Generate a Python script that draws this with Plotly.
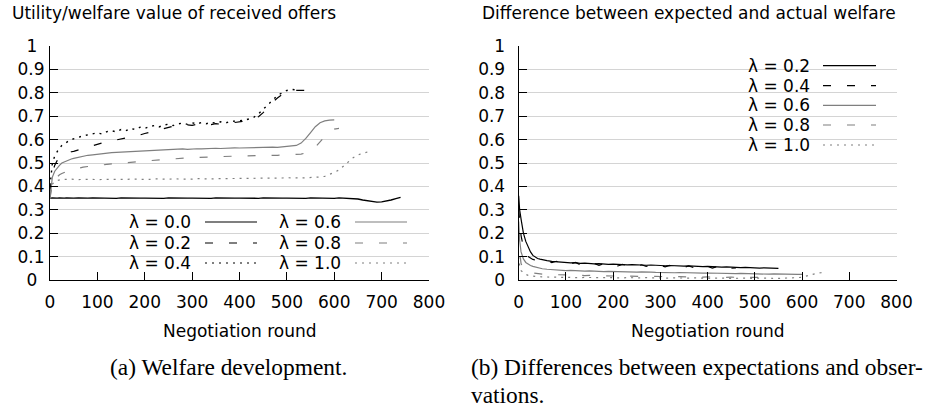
import plotly.graph_objects as go

W, H = 925, 410

# ---------------- data ----------------
ROUNDS = [0, 2, 5, 10, 15, 20, 25, 30, 35, 40, 45, 50,
          60, 70, 80, 90, 100, 110, 120, 130, 140, 150,
          160, 170, 180, 190, 200, 210, 220, 230, 240, 250,
          260, 270, 280, 290, 300, 310, 320, 330, 340, 350,
          360, 370, 380, 390, 400, 410, 420, 430, 440, 450,
          460, 470, 480, 490, 500, 510, 520, 530, 540, 550,
          560, 570, 580, 590, 600, 610, 620, 630, 640, 650,
          660, 670, 680, 690, 700, 710, 720, 730, 740, 750]

X_TICKS = [0, 100, 200, 300, 400, 500, 600, 700, 800]
Y_TICKS = [0, 0.1, 0.2, 0.3, 0.4, 0.5, 0.6, 0.7, 0.8, 0.9, 1]
Y_TICK_LABELS = ["0", "0.1", "0.2", "0.3", "0.4", "0.5", "0.6", "0.7", "0.8", "0.9", "1"]

# (a) welfare of received offers
welfare_l00 = [0.352, 0.35, 0.351, 0.349, 0.35, 0.351, 0.349, 0.35, 0.351, 0.35, 0.349, 0.35,
               0.351, 0.349, 0.35, 0.351, 0.35, 0.349, 0.351, 0.35, 0.349, 0.351,
               0.35, 0.349, 0.351, 0.35, 0.35, 0.349, 0.351, 0.35, 0.349, 0.351,
               0.35, 0.349, 0.351, 0.35, 0.35, 0.349, 0.351, 0.35, 0.349, 0.351,
               0.35, 0.349, 0.351, 0.35, 0.35, 0.349, 0.351, 0.35, 0.349, 0.351,
               0.35, 0.349, 0.351, 0.35, 0.35, 0.349, 0.351, 0.35, 0.349, 0.351,
               0.35, 0.349, 0.351, 0.35, 0.349, 0.351, 0.35, 0.349, 0.348, 0.346,
               0.342, 0.338, 0.335, 0.333, 0.334, 0.337, 0.342, 0.348, 0.353]
welfare_l02 = [0.38, 0.42, 0.46, 0.49, 0.51, 0.52, 0.53, 0.535, 0.54, 0.545, 0.548, 0.55,
               0.556, 0.563, 0.57, 0.576, 0.582, 0.586, 0.59, 0.594, 0.597, 0.602,
               0.606, 0.61, 0.615, 0.62, 0.626, 0.631, 0.636, 0.642, 0.648, 0.654,
               0.657, 0.66, 0.658, 0.663, 0.661, 0.665, 0.662, 0.667, 0.664, 0.668,
               0.666, 0.67, 0.668, 0.673, 0.675, 0.678, 0.682, 0.688, 0.698, 0.715,
               0.738, 0.76, 0.778, 0.792, 0.802, 0.807, 0.81, 0.81, 0.81, 0.81]
welfare_l04 = [0.40, 0.45, 0.50, 0.53, 0.55, 0.565, 0.575, 0.583, 0.59, 0.595, 0.60, 0.604,
               0.61, 0.616, 0.62, 0.626, 0.629, 0.624, 0.634, 0.638, 0.633, 0.643,
               0.638, 0.648, 0.643, 0.653, 0.648, 0.656, 0.66, 0.654, 0.662, 0.666,
               0.66, 0.667, 0.671, 0.665, 0.672, 0.667, 0.673, 0.668, 0.674, 0.67,
               0.676, 0.671, 0.677, 0.679, 0.68, 0.683, 0.688, 0.695, 0.71, 0.73,
               0.752, 0.772, 0.788, 0.80, 0.81, 0.815, 0.812]
welfare_l06 = [0.35, 0.40, 0.44, 0.465, 0.48, 0.49, 0.50, 0.505, 0.51, 0.514, 0.517, 0.52,
               0.525, 0.529, 0.533, 0.535, 0.538, 0.54, 0.542, 0.544, 0.545, 0.546,
               0.548, 0.55, 0.549, 0.551, 0.553, 0.552, 0.555, 0.556, 0.557, 0.558,
               0.557, 0.559, 0.56, 0.558, 0.56, 0.561, 0.56, 0.562, 0.561, 0.563,
               0.562, 0.564, 0.563, 0.565, 0.564, 0.565, 0.566, 0.565, 0.567, 0.566,
               0.567, 0.568, 0.567, 0.569, 0.57, 0.572, 0.575, 0.585, 0.605, 0.63,
               0.655, 0.672, 0.68, 0.683, 0.684]
welfare_l08 = [0.35, 0.38, 0.41, 0.43, 0.44, 0.45, 0.455, 0.46, 0.465, 0.468, 0.47, 0.473,
               0.478, 0.482, 0.485, 0.488, 0.49, 0.492, 0.494, 0.496, 0.498, 0.50,
               0.502, 0.503, 0.505, 0.507, 0.508, 0.51, 0.512, 0.513, 0.515, 0.516,
               0.518, 0.52, 0.52, 0.522, 0.523, 0.524, 0.525, 0.526, 0.527, 0.527,
               0.528, 0.528, 0.529, 0.53, 0.53, 0.53, 0.531, 0.531, 0.532, 0.532,
               0.533, 0.533, 0.533, 0.534, 0.534, 0.535, 0.536, 0.538, 0.543, 0.552,
               0.568, 0.59, 0.615, 0.635, 0.645, 0.648]
welfare_l10 = [0.35, 0.39, 0.41, 0.42, 0.425, 0.428, 0.43, 0.43, 0.429, 0.43, 0.431, 0.43,
               0.429, 0.43, 0.431, 0.43, 0.429, 0.431, 0.43, 0.43, 0.429, 0.431,
               0.43, 0.431, 0.43, 0.432, 0.431, 0.43, 0.432, 0.431, 0.432, 0.431,
               0.432, 0.431, 0.433, 0.432, 0.431, 0.433, 0.432, 0.433, 0.432, 0.433,
               0.433, 0.434, 0.433, 0.434, 0.433, 0.435, 0.434, 0.435, 0.434, 0.435,
               0.435, 0.436, 0.435, 0.436, 0.437, 0.436, 0.437, 0.436, 0.437, 0.437,
               0.438, 0.44, 0.443, 0.45, 0.46, 0.47, 0.488, 0.506, 0.523, 0.535,
               0.542, 0.547]

# (b) difference between expected and actual welfare
diff_l02 = [0.36, 0.30, 0.26, 0.20, 0.165, 0.14, 0.12, 0.105, 0.097, 0.092, 0.089, 0.086,
            0.083, 0.08, 0.078, 0.076, 0.075, 0.073, 0.074, 0.071, 0.072, 0.07,
            0.069, 0.07, 0.068, 0.067, 0.068, 0.066, 0.067, 0.065, 0.066, 0.064,
            0.065, 0.063, 0.064, 0.062, 0.063, 0.061, 0.062, 0.06, 0.061, 0.059,
            0.06, 0.058, 0.059, 0.057, 0.058, 0.056, 0.057, 0.055, 0.056, 0.054,
            0.055, 0.053, 0.054, 0.052, 0.053, 0.051, 0.052, 0.051, 0.05, 0.05]
diff_l04 = [0.30, 0.24, 0.19, 0.14, 0.115, 0.10, 0.092, 0.088, 0.085, 0.083, 0.08, 0.078,
            0.085, 0.074, 0.08, 0.07, 0.078, 0.069, 0.075, 0.066, 0.073, 0.065,
            0.071, 0.063, 0.07, 0.062, 0.068, 0.06, 0.067, 0.061, 0.066, 0.058,
            0.065, 0.058, 0.064, 0.057, 0.063, 0.056, 0.062, 0.055, 0.061, 0.054,
            0.06, 0.053, 0.059, 0.052, 0.058, 0.051, 0.057, 0.05, 0.056, 0.05,
            0.052]
diff_l06 = [0.25, 0.17, 0.12, 0.09, 0.075, 0.068, 0.062, 0.058, 0.055, 0.052, 0.05, 0.048,
            0.046, 0.044, 0.043, 0.041, 0.04, 0.041, 0.039, 0.04, 0.038, 0.039,
            0.037, 0.038, 0.036, 0.037, 0.036, 0.035, 0.036, 0.034, 0.035, 0.034,
            0.035, 0.033, 0.034, 0.033, 0.032, 0.033, 0.032, 0.031, 0.032, 0.031,
            0.03, 0.031, 0.03, 0.029, 0.03, 0.029, 0.028, 0.029, 0.028, 0.028,
            0.027, 0.028, 0.027, 0.026, 0.027, 0.026, 0.026, 0.025, 0.026, 0.025,
            0.025, 0.024, 0.025, 0.024, 0.024]
diff_l08 = [0.20, 0.12, 0.07, 0.05, 0.04, 0.035, 0.032, 0.03, 0.028, 0.027, 0.026, 0.025,
            0.024, 0.023, 0.022, 0.022, 0.021, 0.02, 0.021, 0.02, 0.019, 0.02,
            0.019, 0.018, 0.019, 0.018, 0.017, 0.018, 0.017, 0.016, 0.017, 0.016,
            0.016, 0.015, 0.016, 0.015, 0.015, 0.014, 0.015, 0.014, 0.014, 0.013,
            0.014, 0.013, 0.013, 0.012, 0.013, 0.012, 0.012, 0.012, 0.011, 0.012,
            0.011, 0.011, 0.012, 0.011, 0.011, 0.011]
diff_l10 = [0.10, 0.06, 0.04, 0.03, 0.024, 0.02, 0.018, 0.016, 0.015, 0.014, 0.014, 0.013,
            0.013, 0.012, 0.012, 0.011, 0.012, 0.011, 0.011, 0.01, 0.011, 0.01,
            0.01, 0.011, 0.01, 0.01, 0.009, 0.01, 0.009, 0.01, 0.009, 0.009,
            0.009, 0.01, 0.009, 0.009, 0.008, 0.009, 0.008, 0.009, 0.008, 0.008,
            0.008, 0.009, 0.008, 0.008, 0.008, 0.007, 0.008, 0.007, 0.008, 0.007,
            0.007, 0.008, 0.007, 0.007, 0.007, 0.008, 0.007, 0.007, 0.008, 0.007,
            0.008, 0.008, 0.009, 0.01, 0.012, 0.018, 0.024, 0.028, 0.031, 0.033]

LEFT_LABELS = ["λ = 0.0", "λ = 0.2", "λ = 0.4", "λ = 0.6", "λ = 0.8", "λ = 1.0"]
RIGHT_LABELS = ["λ = 0.2", "λ = 0.4", "λ = 0.6", "λ = 0.8", "λ = 1.0"]

TITLE_A = "Utility/welfare value of received offers"
TITLE_B = "Difference between expected and actual welfare"
XLABEL = "Negotiation round"
CAPTION_A = "(a) Welfare development."
CAPTION_B1 = "(b) Differences between expectations and obser-"
CAPTION_B2 = "vations."

# ---------------- styles ----------------
BLACK = "#000000"
GRAY = "#7f7f7f"
SOLID = "solid"
DASH = "8px,16px"
DOT = "2px,5px"
STY = {
    "λ = 0.0": (BLACK, SOLID, 1.4),
    "λ = 0.2": (BLACK, DASH, 1.2),
    "λ = 0.4": (BLACK, DOT, 1.4),
    "λ = 0.6": (GRAY, SOLID, 1.2),
    "λ = 0.8": (GRAY, DASH, 1.2),
    "λ = 1.0": (GRAY, DOT, 1.2),
}
STY_B = {
    "λ = 0.2": (BLACK, SOLID, 1.2),
    "λ = 0.4": (BLACK, DASH, 1.2),
    "λ = 0.6": (GRAY, SOLID, 1.2),
    "λ = 0.8": (GRAY, DASH, 1.2),
    "λ = 1.0": (GRAY, DOT, 1.2),
}

FONT = "DejaVu Sans"
FS = 17


def px(x):
    return x / W


def py(y):
    return 1 - y / H


fig = go.Figure()

left_series = [welfare_l00, welfare_l02, welfare_l04, welfare_l06, welfare_l08, welfare_l10]
for lab, vals in zip(LEFT_LABELS, left_series):
    c, d, w = STY[lab]
    fig.add_trace(go.Scatter(x=ROUNDS[:len(vals)], y=vals, mode="lines", name=lab,
                             line=dict(color=c, dash=d, width=w), xaxis="x", yaxis="y",
                             showlegend=False))

right_series = [diff_l02, diff_l04, diff_l06, diff_l08, diff_l10]
for lab, vals in zip(RIGHT_LABELS, right_series):
    c, d, w = STY_B[lab]
    fig.add_trace(go.Scatter(x=ROUNDS[:len(vals)], y=vals, mode="lines", name=lab,
                             line=dict(color=c, dash=d, width=w), xaxis="x2", yaxis="y2",
                             showlegend=False))

YDOM = [py(280), py(46)]

xcommon = dict(range=[0, 800], tickvals=X_TICKS, ticks="inside", ticklen=8, tickwidth=1,
               tickcolor=BLACK, showline=True, linecolor=BLACK, linewidth=1.2,
               showgrid=False, zeroline=False, tickfont=dict(family=FONT, size=FS, color=BLACK),
               ticklabelstandoff=6, fixedrange=True, automargin=False)
ycommon = dict(range=[0, 1], tickvals=Y_TICKS, ticks="inside", ticklen=8, tickwidth=1,
               tickcolor=BLACK, showline=True, linecolor=BLACK, linewidth=1.2,
               showgrid=True, gridcolor="#d4d4d4", gridwidth=1, zeroline=False,
               tickfont=dict(family=FONT, size=FS, color=BLACK), fixedrange=True,
               automargin=False)

left_ticktext = [t + "\u2008\u200a" if len(t) == 1 else t for t in Y_TICK_LABELS]

fig.update_layout(
    width=W, height=H, autosize=False,
    margin=dict(l=0, r=0, t=0, b=0, pad=0),
    paper_bgcolor="white", plot_bgcolor="white",
    font=dict(family=FONT, size=FS, color=BLACK),
    xaxis=dict(domain=[px(50), px(429)], anchor="y", **xcommon),
    yaxis=dict(domain=YDOM, anchor="x", ticktext=left_ticktext, ticklabelstandoff=1, **ycommon),
    xaxis2=dict(domain=[px(518.7), px(896.5)], anchor="y2", **xcommon),
    yaxis2=dict(domain=YDOM, anchor="x2", ticktext=Y_TICK_LABELS, ticklabelstandoff=9, **ycommon),
)

ann = []
shapes = []
# titles
ann.append(dict(text=TITLE_A, x=px(10), y=py(13), xref="paper", yref="paper",
                xanchor="left", yanchor="middle", showarrow=False, font=dict(size=FS)))
ann.append(dict(text=TITLE_B, x=px(480), y=py(13), xref="paper", yref="paper",
                xanchor="left", yanchor="middle", showarrow=False, font=dict(size=FS)))
# x-axis labels
ann.append(dict(text=XLABEL, x=px(239.5), y=py(331), xref="paper", yref="paper",
                xanchor="center", yanchor="middle", showarrow=False, font=dict(size=FS)))
ann.append(dict(text=XLABEL, x=px(707.6), y=py(331), xref="paper", yref="paper",
                xanchor="center", yanchor="middle", showarrow=False, font=dict(size=FS)))
# captions
CAP_FONT = dict(family="Liberation Serif", size=23.4, color=BLACK)
ann.append(dict(text=CAPTION_A, x=px(228), y=py(367), xref="paper", yref="paper",
                xanchor="center", yanchor="middle", showarrow=False, font=CAP_FONT))
ann.append(dict(text=CAPTION_B1, x=px(469), y=py(367), xref="paper", yref="paper",
                xanchor="left", yanchor="middle", showarrow=False, font=CAP_FONT))
ann.append(dict(text=CAPTION_B2, x=px(469), y=py(395), xref="paper", yref="paper",
                xanchor="left", yanchor="middle", showarrow=False, font=CAP_FONT))

# legend boxes (white, hiding grid lines)
shapes.append(dict(type="rect", xref="paper", yref="paper", x0=px(117), x1=px(419),
                   y0=py(272), y1=py(212), fillcolor="white", line=dict(width=0), layer="between"))
shapes.append(dict(type="rect", xref="paper", yref="paper", x0=px(737), x1=px(885),
                   y0=py(155), y1=py(55), fillcolor="white", line=dict(width=0), layer="between"))

# left legend: two columns of three
left_rows = [222, 243, 263]
for i, lab in enumerate(LEFT_LABELS):
    col, row = divmod(i, 3)
    ty = left_rows[row]
    txt_r = 193 if col == 0 else 343
    s0, s1 = (205, 257) if col == 0 else (355, 407)
    c, d, w = STY[lab]
    ann.append(dict(text=lab, x=px(txt_r), y=py(ty), xref="paper", yref="paper",
                    xanchor="right", yanchor="middle", showarrow=False, font=dict(size=FS)))
    shapes.append(dict(type="line", xref="paper", yref="paper", x0=px(s0), x1=px(s1),
                       y0=py(ty), y1=py(ty), line=dict(color=c, dash=d, width=1.2), layer="above"))

right_rows = [65.7, 85.7, 105.3, 125, 145]
for lab, ty in zip(RIGHT_LABELS, right_rows):
    c, d, w = STY_B[lab]
    ann.append(dict(text=lab, x=px(812), y=py(ty), xref="paper", yref="paper",
                    xanchor="right", yanchor="middle", showarrow=False, font=dict(size=FS)))
    shapes.append(dict(type="line", xref="paper", yref="paper", x0=px(823), x1=px(876),
                       y0=py(ty), y1=py(ty), line=dict(color=c, dash=d, width=1.2), layer="above"))

fig.update_layout(annotations=ann, shapes=shapes)

fig.write_html("out.html", config={"displayModeBar": False},
               post_script="document.body.style.margin='0';")
